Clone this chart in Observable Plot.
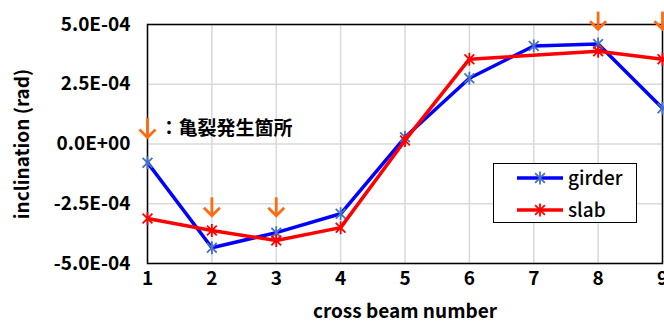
<!DOCTYPE html>
<html>
<head>
<meta charset="utf-8">
<script src="https://cdn.jsdelivr.net/npm/d3@7"></script>
<script src="https://cdn.jsdelivr.net/npm/@observablehq/plot@0.6"></script>
<style>
  html, body { margin: 0; padding: 0; background: #fff; }
  #wrap { position: relative; width: 664px; height: 322px; overflow: hidden; font-family: "Noto Sans CJK JP", "Noto Sans", sans-serif; }
  #wrap svg.plot g[aria-label="y-axis label"] text { font-size: 21px; font-weight: 500; letter-spacing: 1.1px; }
  #wrap svg.plot g[aria-label="x-axis label"] text { font-size: 21px; font-weight: 500; }
  #legend { position: absolute; left: 493px; top: 163px; width: 142px; height: 58px; border: 1.5px solid #000; background: #fff; }
  #legend svg { overflow: visible; }
</style>
</head>
<body>
<div id="wrap"></div>
<script>
// ---- data ----
const beams = [1, 2, 3, 4, 5, 6, 7, 8, 9];
const girder = [-0.78e-4, -4.34e-4, -3.71e-4, -2.92e-4, 0.28e-4, 2.75e-4, 4.10e-4, 4.18e-4, 1.50e-4];
const slab   = [-3.12e-4, -3.62e-4, -4.04e-4, -3.50e-4, 0.15e-4, 3.55e-4, null, 3.88e-4, 3.55e-4];
const yTicks = [-5e-4, -2.5e-4, 0, 2.5e-4, 5e-4];
const crackBeams = [1, 2, 3, 8, 9];
const crackTop = [1.08e-4, -2.25e-4, -2.25e-4, 5.52e-4, 5.52e-4];
const crackBottom = [0.27e-4, -3.0e-4, -3.0e-4, 4.8e-4, 4.8e-4];
const noteText = "：亀裂発生箇所";
const noteX = [1];
const noteY = [0.65e-4];
const seriesNames = ["girder", "slab"];

const girderData = beams.map((b, i) => ({x: b, y: girder[i]})).filter(d => d.y != null);
const slabData = beams.map((b, i) => ({x: b, y: slab[i]})).filter(d => d.y != null);
const crackData = crackBeams.map((b, i) => ({x: b, y1: crackTop[i], y2: crackBottom[i]}));

const asterisk = {
  draw(ctx, size) {
    const r = Math.sqrt(size / Math.PI);
    const a = r * 0.75;
    ctx.moveTo(-a, -a); ctx.lineTo(a, a);
    ctx.moveTo(-a, a); ctx.lineTo(a, -a);
    ctx.moveTo(0, -r); ctx.lineTo(0, r);
  }
};
// downward chevron with its tip at the anchor point
const chevron = {
  draw(ctx, size) {
    const r = Math.sqrt(size / Math.PI);
    ctx.moveTo(-r, -r); ctx.lineTo(0, 0); ctx.lineTo(r, -r);
  }
};

const fmt = d => d.toExponential(1).replace(/e([+-])(\d)$/, (m, s, n) => "E" + s + "0" + n);
const orange = "#ff6a13";

const chart = Plot.plot({
  width: 664,
  height: 322,
  marginLeft: 147,
  marginRight: 2,
  marginTop: 24,
  marginBottom: 59,
  style: {fontFamily: '"Noto Sans CJK JP", "Noto Sans", sans-serif', color: "#000", background: "#fff", overflow: "visible"},
  x: {domain: [1, 9]},
  y: {domain: [-5e-4, 5e-4]},
  marks: [
    Plot.gridX(beams, {stroke: "#d9d9d9", strokeOpacity: 1, strokeWidth: 1.5}),
    Plot.gridY(yTicks, {stroke: "#d9d9d9", strokeOpacity: 1, strokeWidth: 1.5}),
    Plot.axisX(beams, {tickSize: 0, tickPadding: 8, fontSize: 19, fontWeight: "bold", tickFormat: d => String(d),
      label: "cross beam number", labelAnchor: "center", labelArrow: "none", labelOffset: 54}),
    Plot.axisY(yTicks, {tickSize: 0, tickPadding: 17, fontSize: 19, fontWeight: "bold", tickFormat: fmt,
      label: "inclination (rad)", labelAnchor: "center", labelArrow: "none", labelOffset: 132}),
    Plot.frame({stroke: "#000", strokeWidth: 1.5}),
    Plot.line(girderData, {x: "x", y: "y", stroke: "#0000ff", strokeWidth: 3.5}),
    Plot.dot(girderData, {x: "x", y: "y", symbol: asterisk, r: 6.5, stroke: "#4472c4", strokeWidth: 1.8, fill: "none"}),
    Plot.line(slabData, {x: "x", y: "y", stroke: "#ff0000", strokeWidth: 3.5}),
    Plot.dot(slabData, {x: "x", y: "y", symbol: asterisk, r: 6.5, stroke: "#ff0000", strokeWidth: 1.8, fill: "none"}),
    Plot.ruleX(crackData, {x: "x", y1: "y1", y2: "y2", stroke: orange, strokeWidth: 2.8}),
    Plot.dot(crackData, {x: "x", y: "y2", symbol: chevron, r: 8, stroke: orange, strokeWidth: 2.8, fill: "none", strokeLinejoin: "miter"}),
    Plot.text({length: 1}, {x: noteX, y: noteY, text: [noteText], dx: 12, textAnchor: "start", fontSize: 19, fontWeight: "bold", fill: "#000"})
  ]
});

const wrap = document.getElementById("wrap");
wrap.appendChild(chart);

// legend overlay
const colors = {girder: ["#0000ff", "#4472c4"], slab: ["#ff0000", "#ff0000"]};
const leg = document.createElement("div");
leg.id = "legend";
const ns = "http://www.w3.org/2000/svg";
const lsvg = document.createElementNS(ns, "svg");
lsvg.setAttribute("width", 142);
lsvg.setAttribute("height", 58);
seriesNames.forEach((name, i) => {
  const cy = 14 + i * 32;
  const [lc, mc] = colors[name];
  const ln = document.createElementNS(ns, "line");
  ln.setAttribute("x1", 23); ln.setAttribute("x2", 69);
  ln.setAttribute("y1", cy); ln.setAttribute("y2", cy);
  ln.setAttribute("stroke", lc); ln.setAttribute("stroke-width", 3.5);
  lsvg.appendChild(ln);
  const p = document.createElementNS(ns, "path");
  const r = 6.5, a = r * 0.75, cx = 46;
  p.setAttribute("d", `M${cx - a},${cy - a}L${cx + a},${cy + a}M${cx - a},${cy + a}L${cx + a},${cy - a}M${cx},${cy - r}L${cx},${cy + r}`);
  p.setAttribute("stroke", mc); p.setAttribute("stroke-width", 1.8); p.setAttribute("fill", "none");
  lsvg.appendChild(p);
  const t = document.createElementNS(ns, "text");
  t.setAttribute("x", 74); t.setAttribute("y", cy);
  t.setAttribute("dy", "0.35em");
  t.setAttribute("font-size", 19); t.setAttribute("font-weight", 500);
  t.setAttribute("font-family", '"Noto Sans CJK JP", "Noto Sans", sans-serif');
  t.textContent = name;
  lsvg.appendChild(t);
});
leg.appendChild(lsvg);
wrap.appendChild(leg);
</script>
</body>
</html>
